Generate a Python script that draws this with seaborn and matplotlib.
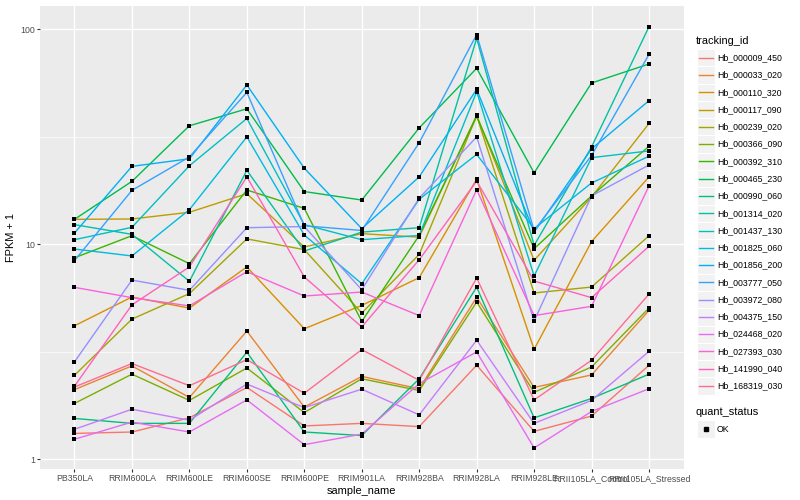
import numpy as np
import pandas as pd
import matplotlib
matplotlib.use("Agg")
import matplotlib.pyplot as plt
from matplotlib.ticker import FixedLocator, NullFormatter
from matplotlib.patches import Rectangle
from matplotlib.lines import Line2D
import seaborn as sns

samples = ["PB350LA", "RRIM600LA", "RRIM600LE", "RRIM600SE", "RRIM600PE", "RRIM901LA",
           "RRIM928BA", "RRIM928LA", "RRIM928LE", "RRII105LA_Control", "RRII105LA_Stressed"]

tracking_ids = ["Hb_000009_450", "Hb_000033_020", "Hb_000110_320", "Hb_000117_090",
                "Hb_000239_020", "Hb_000366_090", "Hb_000392_310", "Hb_000465_230",
                "Hb_000990_060", "Hb_001314_020", "Hb_001437_130", "Hb_001825_060",
                "Hb_001856_200", "Hb_003777_050", "Hb_003972_080", "Hb_004375_150",
                "Hb_024468_020", "Hb_027393_030", "Hb_141990_040", "Hb_168319_030"]

hb_000009_450 = [1.32, 1.34, 1.56, 2.16, 1.43, 1.47, 1.42, 2.74, 1.35, 1.59, 2.74]
hb_000033_020 = [2.11, 2.72, 1.94, 3.95, 1.75, 2.43, 2.13, 5.67, 2.16, 2.47, 4.93]
hb_000110_320 = [4.18, 5.69, 5.05, 7.85, 4.05, 5.20, 7.00, 20.1, 3.25, 10.3, 20.6]
hb_000117_090 = [13.07, 13.12, 14.1, 17.2, 9.72, 11.21, 10.8, 39.8, 8.43, 16.6, 36.5]
hb_000239_020 = [2.46, 4.49, 5.90, 10.6, 9.45, 4.79, 8.98, 39.6, 5.94, 6.33, 10.97]
hb_000366_090 = [1.82, 2.49, 1.88, 2.66, 1.65, 2.37, 2.09, 5.39, 2.05, 2.69, 5.06]
hb_000392_310 = [8.66, 10.97, 8.13, 17.9, 14.7, 4.38, 11.0, 39.4, 9.55, 16.8, 28.6]
hb_000465_230 = [13.07, 19.63, 35.6, 42.7, 17.6, 16.07, 34.8, 65.9, 21.5, 56.3, 69.0]
hb_000990_060 = [1.55, 1.47, 1.47, 3.15, 1.34, 1.29, 2.37, 6.32, 1.56, 1.92, 2.49]
hb_001314_020 = [12.35, 11.13, 6.73, 22.1, 9.31, 11.4, 11.95, 90.8, 9.89, 28.4, 102.9]
hb_001437_130 = [10.51, 12.0, 23.2, 38.5, 12.35, 10.51, 11.0, 51.3, 7.12, 25.3, 27.2]
hb_001825_060 = [9.51, 8.83, 14.5, 31.6, 11.05, 6.56, 16.2, 26.2, 11.83, 19.3, 25.7]
hb_001856_200 = [11.29, 23.05, 25.0, 55.1, 22.6, 11.83, 20.6, 52.6, 11.4, 27.8, 46.6]
hb_003777_050 = [8.40, 17.83, 25.5, 50.9, 12.2, 11.6, 29.7, 94.5, 11.6, 25.9, 76.5]
hb_003972_080 = [2.84, 6.82, 6.11, 11.95, 12.1, 6.15, 16.4, 31.6, 4.40, 16.8, 23.4]
hb_004375_150 = [1.38, 1.71, 1.52, 2.24, 1.74, 2.12, 1.61, 3.58, 1.47, 1.88, 3.18]
hb_024468_020 = [1.24, 1.49, 1.34, 1.89, 1.17, 1.31, 2.25, 3.16, 1.13, 1.67, 2.13]
hb_027393_030 = [6.31, 5.65, 5.17, 7.46, 5.75, 6.00, 4.66, 17.96, 4.66, 5.15, 18.7]
hb_141990_040 = [2.19, 5.23, 7.85, 20.6, 7.05, 4.13, 8.48, 19.7, 6.75, 5.65, 9.79]
hb_168319_030 = [2.17, 2.79, 2.20, 2.91, 2.03, 3.24, 2.33, 6.97, 1.89, 2.89, 5.87]

series = [hb_000009_450, hb_000033_020, hb_000110_320, hb_000117_090, hb_000239_020,
          hb_000366_090, hb_000392_310, hb_000465_230, hb_000990_060, hb_001314_020,
          hb_001437_130, hb_001825_060, hb_001856_200, hb_003777_050, hb_003972_080,
          hb_004375_150, hb_024468_020, hb_027393_030, hb_141990_040, hb_168319_030]

colors = ["#F8766D", "#EA8331", "#D89000", "#C09B00", "#A3A500", "#7CAE00", "#39B600",
          "#00BB4E", "#00BF7D", "#00C1A3", "#00BFC4", "#00BAE0", "#00B0F6", "#35A2FF",
          "#9590FF", "#C77CFF", "#E76BF3", "#FA62DB", "#FF62BC", "#FF6C91"]

rows = []
for tid, vals in zip(tracking_ids, series):
    for s, v in zip(samples, vals):
        rows.append({"tracking_id": tid, "sample_name": s, "fpkm": v, "quant_status": "OK"})
df = pd.DataFrame(rows)

plt.rcParams["font.family"] = ["Liberation Sans", "DejaVu Sans"]

W, H = 800, 500
fig = plt.figure(figsize=(8, 5), dpi=100)
fig.patch.set_facecolor("white")
ax = fig.add_axes([40 / W, 1 - 469 / H, 643.5 / W, 463.4 / H])
ax.set_facecolor("#EBEBEB")

palette = dict(zip(tracking_ids, colors))
sns.lineplot(data=df, x="sample_name", y="fpkm", hue="tracking_id", hue_order=tracking_ids,
             palette=palette, sort=False, estimator=None, linewidth=1.0, ax=ax,
             legend=False, zorder=2)
sns.scatterplot(data=df, x="sample_name", y="fpkm", color="black", marker="s", s=7,
                linewidth=0, ax=ax, legend=False, zorder=3)

ax.set_yscale("log")
ax.set_ylim(10 ** -0.0449, 10 ** 2.1104)
ax.set_xlim(-0.6, len(samples) - 0.4)
ax.yaxis.set_major_locator(FixedLocator([1, 10, 100]))
ax.set_yticklabels(["1", "10", "100"])
ax.yaxis.set_minor_locator(FixedLocator([10 ** 0.5, 10 ** 1.5]))
ax.yaxis.set_minor_formatter(NullFormatter())
ax.grid(which="major", color="white", linewidth=1.0)
ax.grid(which="minor", axis="y", color="white", linewidth=0.5)
ax.set_axisbelow(True)
for sp in ax.spines.values():
    sp.set_visible(False)
fs_tick = 8.8 * 72 / 100
fs_title = 11 * 72 / 100
ax.tick_params(which="major", length=2.0, width=0.8, color="#333333",
               labelsize=fs_tick, labelcolor="#4D4D4D", pad=1.6)
ax.tick_params(which="minor", length=0)
ax.set_xlabel("sample_name", fontsize=fs_title, color="black", labelpad=2.5)
ax.set_ylabel("FPKM + 1", fontsize=fs_title, color="black", labelpad=3)


def fx(x):
    return x / W


def fy(y):
    return 1 - y / H


# legend: tracking_id
fig.text(fx(696), fy(40.5), "tracking_id", fontsize=fs_title, va="center", ha="left")
step = 17.28
for i, (tid, c) in enumerate(zip(tracking_ids, colors)):
    yc = 57.7 + step * i
    fig.add_artist(Rectangle((fx(697.3), fy(yc + step / 2)), 17.28 / W, step / H,
                             facecolor="#F2F2F2", edgecolor="white", linewidth=0.8,
                             transform=fig.transFigure))
    fig.add_artist(Line2D([fx(699), fx(712.6)], [fy(yc), fy(yc)], color=c, linewidth=1.0,
                          transform=fig.transFigure))
    fig.text(fx(717), fy(yc), tid, fontsize=fs_tick, va="center", ha="left")

# legend: quant_status
fig.text(fx(696), fy(412.3), "quant_status", fontsize=fs_title, va="center", ha="left")
fig.add_artist(Rectangle((fx(697.3), fy(429 + step / 2)), 17.28 / W, step / H,
                         facecolor="#F2F2F2", edgecolor="white", linewidth=0.8,
                         transform=fig.transFigure))
fig.add_artist(Line2D([fx(705.9)], [fy(429)], color="black", marker="s", markersize=2.6,
                      linewidth=0, transform=fig.transFigure))
fig.text(fx(717), fy(429), "OK", fontsize=fs_tick, va="center", ha="left")

fig.savefig("out.png", dpi=100)
